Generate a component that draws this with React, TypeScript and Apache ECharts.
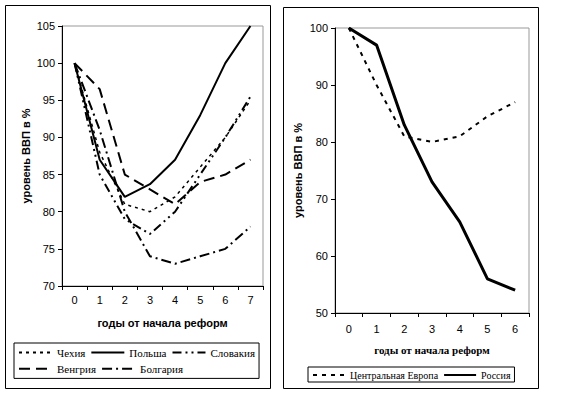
import React, { useEffect, useRef } from "react";
import * as echarts from "echarts";

const yearsLeft = ["0", "1", "2", "3", "4", "5", "6", "7"];
const czech = [100, 88, 81, 80, 82, 86, 90, 95];
const poland = [100, 87, 82, 83.7, 87, 93, 100, 105];
const slovakia = [100, 85, 79, 77, 80, 85, 90, 95.5];
const hungary = [100, 96.5, 85, 83, 81, 84, 85, 87];
const bulgaria = [100, 91, 80, 74, 73, 74, 75, 78];

const yearsRight = ["0", "1", "2", "3", "4", "5", "6"];
const centralEurope = [100, 90, 81, 80, 81, 84.5, 87];
const russia = [100, 97, 83, 73, 66, 56, 54];

const SANS = "Liberation Sans, Arial, sans-serif";
const SERIF = "Liberation Serif, Times New Roman, serif";

export default function App() {
  const ref = useRef<HTMLDivElement>(null);
  useEffect(() => {
    if (!ref.current) return;
    const chart = echarts.init(ref.current, null, { renderer: "svg" });
    const axisLine = { lineStyle: { color: "#000", width: 1 } };
    const axisLabel = { color: "#000", fontFamily: SANS, fontSize: 11 };
    const line = (name: string, data: number[], idx: number, type: any, width: number) => ({
      name,
      type: "line",
      data,
      xAxisIndex: idx,
      yAxisIndex: idx,
      symbol: "none",
      lineStyle: { color: "#000", width, type },
      itemStyle: { color: "#000" },
    });
    const hiddenSymbol = { color: "transparent", borderColor: "transparent", borderWidth: 0 };
    chart.setOption({
      animation: false,
      backgroundColor: "#fff",
      grid: [
        { left: 62, top: 26, width: 201, height: 260, show: true, borderColor: "#999", borderWidth: 1, backgroundColor: "#fff" },
        { left: 335, top: 28, width: 194, height: 285, show: true, borderColor: "#999", borderWidth: 1, backgroundColor: "#fff" },
      ],
      xAxis: [
        {
          type: "category", gridIndex: 0, data: yearsLeft, boundaryGap: true,
          axisLine, axisTick: { show: true, length: 4, lineStyle: { color: "#000" } },
          axisLabel: { ...axisLabel, margin: 8 },
          name: "годы от начала реформ", nameLocation: "middle", nameGap: 31,
          nameTextStyle: { color: "#000", fontFamily: SANS, fontSize: 11, fontWeight: "bold" },
        },
        {
          type: "category", gridIndex: 1, data: yearsRight, boundaryGap: true,
          axisLine, axisTick: { show: true, length: 4, lineStyle: { color: "#000" } },
          axisLabel: { ...axisLabel, margin: 10 },
          name: "годы от начала реформ", nameLocation: "middle", nameGap: 31,
          nameTextStyle: { color: "#000", fontFamily: SERIF, fontSize: 11, fontWeight: "bold" },
        },
      ],
      yAxis: [
        {
          type: "value", gridIndex: 0, min: 70, max: 105, interval: 5,
          axisLine: { show: true, ...axisLine }, axisTick: { show: true, length: 4, lineStyle: { color: "#000" } },
          splitLine: { show: false }, axisLabel: { ...axisLabel, margin: 7 },
          name: "уровень ВВП в %", nameLocation: "middle", nameGap: 31, nameRotate: 90,
          nameTextStyle: { color: "#000", fontFamily: SANS, fontSize: 11, fontWeight: "bold" },
        },
        {
          type: "value", gridIndex: 1, min: 50, max: 100, interval: 10,
          axisLine: { show: true, ...axisLine }, axisTick: { show: true, length: 4, lineStyle: { color: "#000" } },
          splitLine: { show: false }, axisLabel: { ...axisLabel, margin: 7 },
          name: "уровень ВВП в %", nameLocation: "middle", nameGap: 32, nameRotate: 90,
          nameTextStyle: { color: "#000", fontFamily: SANS, fontSize: 11, fontWeight: "bold" },
        },
      ],
      legend: [
        {
          data: ["Чехия", "Польша", "Словакия", "Венгрия", "Болгария"],
          left: 14, top: 343, width: 241, orient: "horizontal",
          itemWidth: 33, itemHeight: 14, itemGap: 5,
          padding: [4, 4, 4, 4], borderColor: "#000", borderWidth: 1,
          itemStyle: hiddenSymbol,
          textStyle: { color: "#000", fontFamily: SERIF, fontSize: 11 },
        },
        {
          data: ["Центральная Европа", "Россия"],
          left: 308, top: 367, orient: "horizontal",
          itemWidth: 32, itemHeight: 11, itemGap: 5,
          padding: [3, 4, 2, 4], borderColor: "#000", borderWidth: 1,
          itemStyle: hiddenSymbol,
          textStyle: { color: "#000", fontFamily: SERIF, fontSize: 10 },
        },
      ],
      graphic: [
        { type: "rect", shape: { x: 5.5, y: 5.5, width: 265, height: 383 }, style: { fill: "none", stroke: "#000", lineWidth: 1 }, z: -1 },
        { type: "rect", shape: { x: 283.5, y: 7.5, width: 255, height: 381 }, style: { fill: "none", stroke: "#000", lineWidth: 1 }, z: -1 },
      ],
      series: [
        line("Чехия", czech, 0, [3, 4], 1.5),
        line("Польша", poland, 0, "solid", 2),
        line("Словакия", slovakia, 0, [9, 4, 2, 4, 2, 4], 2),
        line("Венгрия", hungary, 0, [11, 6], 2),
        line("Болгария", bulgaria, 0, [10, 4, 2, 4], 2),
        line("Центральная Европа", centralEurope, 1, [4, 5], 2),
        line("Россия", russia, 1, "solid", 3),
      ],
    });
    return () => chart.dispose();
  }, []);
  return (
    <div
      ref={ref}
      style={{ position: "fixed", left: 0, top: 0, width: 583, height: 395, background: "#fff" }}
    />
  );
}
